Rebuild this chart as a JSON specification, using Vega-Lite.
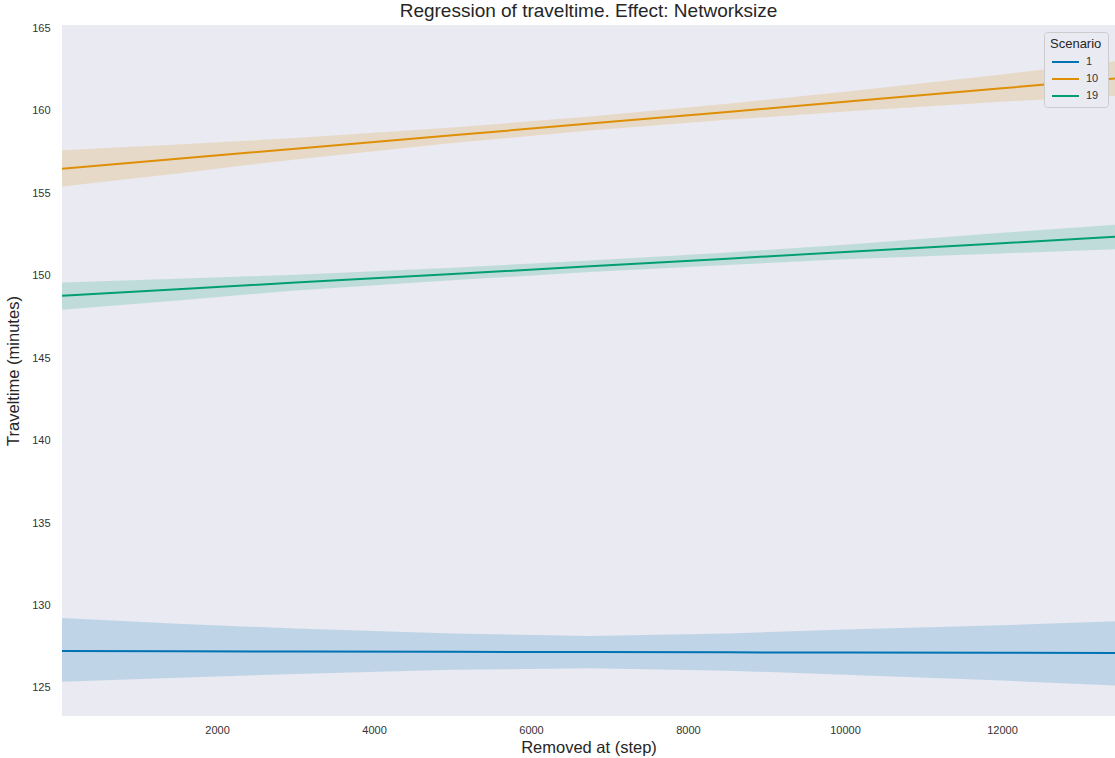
{
  "$schema": "https://vega.github.io/schema/vega-lite/v6.json",
  "width": 1053,
  "height": 691,
  "autosize": {"type": "none"},
  "padding": {"left": 62, "top": 25, "right": 0, "bottom": 42},
  "background": "white",
  "title": {"text": "Regression of traveltime. Effect: Networksize", "fontSize": 19, "font": "Liberation Sans", "fontWeight": "normal", "color": "#262626", "offset": 1, "anchor": "middle"},
  "config": {
    "view": {"fill": "#eaeaf2", "stroke": null},
    "axis": {"grid": false, "domain": false, "ticks": false, "labelFont": "Liberation Sans", "titleFont": "Liberation Sans", "labelColor": "#333333", "titleColor": "#262626", "labelFontSize": 11, "titleFontSize": 16.5, "titleFontWeight": "normal"}
  },
  "data": {"values": [
    {"step": 25, "scenario": "1", "fit": 127.24, "lo": 125.38, "hi": 129.25},
    {"step": 1500, "scenario": "1", "fit": 127.22, "lo": 125.62, "hi": 128.9},
    {"step": 3000, "scenario": "1", "fit": 127.21, "lo": 125.85, "hi": 128.6},
    {"step": 5000, "scenario": "1", "fit": 127.19, "lo": 126.1, "hi": 128.3},
    {"step": 6750, "scenario": "1", "fit": 127.18, "lo": 126.2, "hi": 128.15},
    {"step": 8500, "scenario": "1", "fit": 127.16, "lo": 126.05, "hi": 128.3},
    {"step": 10000, "scenario": "1", "fit": 127.15, "lo": 125.8, "hi": 128.55},
    {"step": 12000, "scenario": "1", "fit": 127.13, "lo": 125.45, "hi": 128.8},
    {"step": 13440, "scenario": "1", "fit": 127.12, "lo": 125.15, "hi": 129.05},
    {"step": 25, "scenario": "10", "fit": 156.49, "lo": 155.4, "hi": 157.6},
    {"step": 1500, "scenario": "10", "fit": 157.09, "lo": 156.2, "hi": 157.95},
    {"step": 3000, "scenario": "10", "fit": 157.7, "lo": 157.05, "hi": 158.35},
    {"step": 5000, "scenario": "10", "fit": 158.51, "lo": 158.05, "hi": 158.98},
    {"step": 6750, "scenario": "10", "fit": 159.22, "lo": 158.8, "hi": 159.65},
    {"step": 8500, "scenario": "10", "fit": 159.93, "lo": 159.45, "hi": 160.42},
    {"step": 10000, "scenario": "10", "fit": 160.55, "lo": 159.95, "hi": 161.15},
    {"step": 12000, "scenario": "10", "fit": 161.36, "lo": 160.55, "hi": 162.2},
    {"step": 13440, "scenario": "10", "fit": 161.95, "lo": 160.9, "hi": 163.0},
    {"step": 25, "scenario": "19", "fit": 148.79, "lo": 147.94, "hi": 149.58},
    {"step": 1500, "scenario": "19", "fit": 149.18, "lo": 148.5, "hi": 149.82},
    {"step": 3000, "scenario": "19", "fit": 149.58, "lo": 149.1, "hi": 150.05},
    {"step": 5000, "scenario": "19", "fit": 150.1, "lo": 149.72, "hi": 150.48},
    {"step": 6750, "scenario": "19", "fit": 150.57, "lo": 150.22, "hi": 150.92},
    {"step": 8500, "scenario": "19", "fit": 151.03, "lo": 150.65, "hi": 151.4},
    {"step": 10000, "scenario": "19", "fit": 151.44, "lo": 151.0, "hi": 151.88},
    {"step": 12000, "scenario": "19", "fit": 151.97, "lo": 151.35, "hi": 152.6},
    {"step": 13440, "scenario": "19", "fit": 152.36, "lo": 151.6, "hi": 153.09}
  ]},
  "encoding": {
    "x": {"field": "step", "type": "quantitative", "scale": {"domain": [25, 13440], "nice": false, "zero": false}, "axis": {"title": "Removed at (step)", "values": [2000, 4000, 6000, 8000, 10000, 12000], "format": "d", "labelPadding": 8, "titlePadding": 4}},
    "color": {"field": "scenario", "type": "nominal", "scale": {"domain": ["1", "10", "19"], "range": ["#0173b2", "#de8f05", "#029e73"]}, "legend": {"title": "Scenario", "orient": "none", "legendX": 982, "legendY": 7, "symbolType": "M-0.8,0H4.6", "symbolStrokeWidth": 2, "symbolSize": 100, "symbolOpacity": 1, "labelOffset": 24, "titleFont": "Liberation Sans", "titleFontSize": 13, "titleFontWeight": "normal", "titleColor": "#262626", "labelFont": "Liberation Sans", "labelFontSize": 11, "labelColor": "#333333", "fillColor": "#eaeaf2", "strokeColor": "#cccccc", "padding": 6, "cornerRadius": 3, "rowPadding": 6, "titlePadding": 5}}
  },
  "layer": [
    {"mark": {"type": "area", "opacity": 0.18, "clip": true},
     "encoding": {"y": {"field": "lo", "type": "quantitative"}, "y2": {"field": "hi"}}},
    {"mark": {"type": "line", "strokeWidth": 2, "clip": true},
     "encoding": {"y": {"field": "fit", "type": "quantitative", "scale": {"domain": [123.3, 165.2], "nice": false, "zero": false}, "axis": {"title": "Traveltime (minutes)", "values": [125, 130, 135, 140, 145, 150, 155, 160, 165], "labelPadding": 12, "titlePadding": 10}}}}
  ]
}
